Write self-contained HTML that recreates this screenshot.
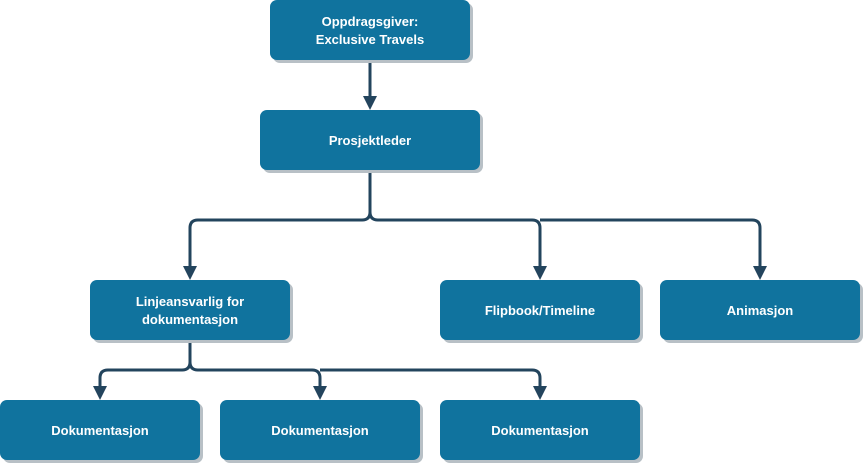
<!DOCTYPE html>
<html><head><style>body{margin:0;background:#fff}svg{display:block}</style></head><body>
<svg width="863" height="464" xmlns="http://www.w3.org/2000/svg" font-family="Liberation Sans, Arial, sans-serif" font-weight="bold" font-size="13">
<defs><marker id="a" viewBox="0 0 10 10" refX="9" refY="5" markerWidth="5" markerHeight="5" orient="auto" markerUnits="userSpaceOnUse" style="overflow:visible"><path d="M0 0 L10 5 L0 10Z" fill="#23445D" transform="scale(1.4)" /></marker></defs>
<g fill="none" stroke="#23445D" stroke-width="3">
<path d="M370 60 V96"/>
<path d="M370 170 V212 Q370 220 362 220 H198 Q190 220 190 228 V266"/>
<path d="M370 212 Q370 220 378 220 H532 Q540 220 540 228 V266"/>
<path d="M540 220 H752 Q760 220 760 228 V266"/>
<path d="M190 340 V362 Q190 370 182 370 H108 Q100 370 100 378 V386"/>
<path d="M190 362 Q190 370 198 370 H312 Q320 370 320 378 V386"/>
<path d="M320 370 H532 Q540 370 540 378 V386"/>
</g>
<g fill="#23445D">
<path d="M363 96 L377 96 L370 110Z"/>
<path d="M183 266 L197 266 L190 280Z"/>
<path d="M533 266 L547 266 L540 280Z"/>
<path d="M753 266 L767 266 L760 280Z"/>
<path d="M93 386 L107 386 L100 400Z"/>
<path d="M313 386 L327 386 L320 400Z"/>
<path d="M533 386 L547 386 L540 400Z"/>
</g>
<g fill="#b8c0c6">
<rect x="273" y="3" width="200" height="60" rx="7"/>
<rect x="263" y="113" width="220" height="60" rx="7"/>
<rect x="93" y="283" width="200" height="60" rx="7"/>
<rect x="443" y="283" width="200" height="60" rx="7"/>
<rect x="663" y="283" width="200" height="60" rx="7"/>
<rect x="3" y="403" width="200" height="60" rx="7"/>
<rect x="223" y="403" width="200" height="60" rx="7"/>
<rect x="443" y="403" width="200" height="60" rx="7"/>
</g>
<g fill="#10739E">
<rect x="270" y="0" width="200" height="60" rx="7"/>
<rect x="260" y="110" width="220" height="60" rx="7"/>
<rect x="90" y="280" width="200" height="60" rx="7"/>
<rect x="440" y="280" width="200" height="60" rx="7"/>
<rect x="660" y="280" width="200" height="60" rx="7"/>
<rect x="0" y="400" width="200" height="60" rx="7"/>
<rect x="220" y="400" width="200" height="60" rx="7"/>
<rect x="440" y="400" width="200" height="60" rx="7"/>
</g>
<g fill="#fff" text-anchor="middle">
<text x="370" y="26">Oppdragsgiver:</text>
<text x="370" y="44">Exclusive Travels</text>
<text x="370" y="145">Prosjektleder</text>
<text x="190" y="306">Linjeansvarlig for</text>
<text x="190" y="324">dokumentasjon</text>
<text x="540" y="315">Flipbook/Timeline</text>
<text x="760" y="315">Animasjon</text>
<text x="100" y="435">Dokumentasjon</text>
<text x="320" y="435">Dokumentasjon</text>
<text x="540" y="435">Dokumentasjon</text>
</g>
</svg>
</body></html>
